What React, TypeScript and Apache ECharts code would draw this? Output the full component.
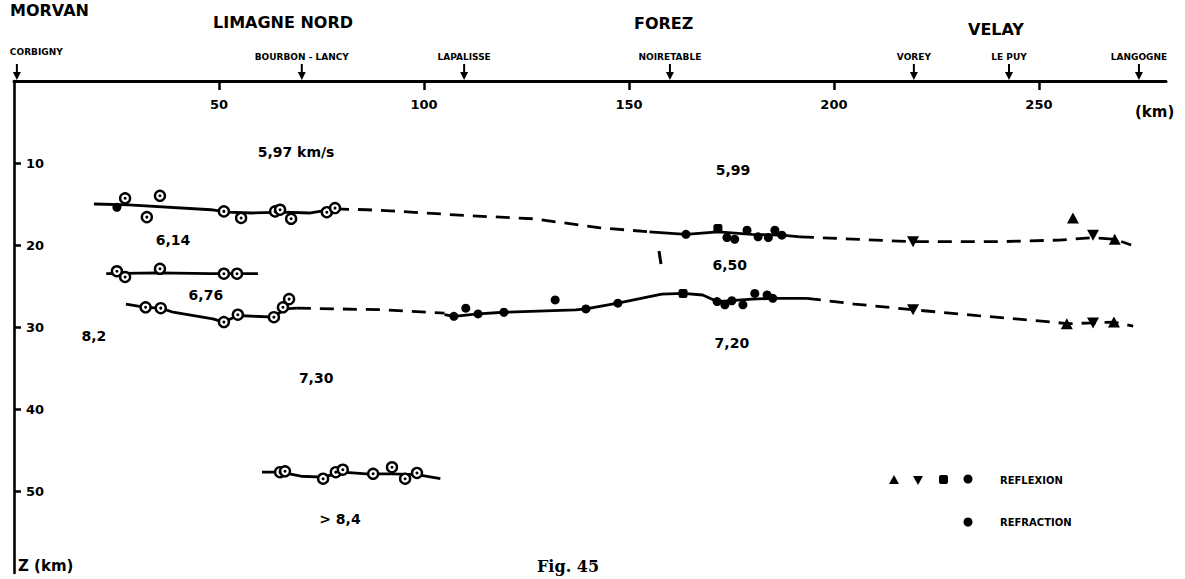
import React, { useEffect, useRef } from "react";
import * as echarts from "echarts";

// ---- axes ----
const xTicks = [50, 100, 150, 200, 250];
const zTicks = [10, 20, 30, 40, 50];

// ---- headings and stations ----
const regionNames = ["MORVAN", "LIMAGNE NORD", "FOREZ", "VELAY"];
const stationNames = ["CORBIGNY", "BOURBON - LANCY", "LAPALISSE", "NOIRETABLE", "VOREY", "LE PUY", "LANGOGNE"];
const stationKm = [0.7, 70.2, 109.8, 160.0, 219.5, 242.7, 274.4];

// ---- velocity annotations [km, depth] ----
const velocityText = ["5,97 km/s", "5,99", "6,14", "6,50", "6,76", "8,2", "7,20", "7,30", "> 8,4"];
const velocityPos = [
  [68.8, 8.7], [175.4, 10.9], [38.8, 19.4], [174.6, 22.4], [46.8, 26.1],
  [19.5, 31.1], [175.1, 32.0], [73.7, 36.2], [79.5, 53.4],
];

// ---- reflector traces [km, depth] ----
const upperSolidA = [[19.5, 15.0], [28, 15.1], [48, 15.7], [52, 16.0], [58, 16.1], [66, 16.0], [72, 16.1], [78.3, 15.6]];
const upperDashedA = [[78.3, 15.6], [86, 15.7], [94, 15.9], [110, 16.4], [126.6, 16.8], [143, 17.9], [155, 18.4]];
const upperSolidB = [[155, 18.4], [163.9, 18.7], [171.7, 18.4], [180, 18.7], [187.3, 18.8], [191.7, 19.0]];
const upperDashedB = [[191.7, 19.0], [219.3, 19.6], [240, 19.6], [255, 19.4], [263, 19.1], [268.5, 19.3], [272.5, 20.0]];
const middleSolid = [[22.5, 23.5], [35, 23.4], [48, 23.5], [59.5, 23.5]];
const lowerSolidA = [[27.3, 27.2], [32.1, 27.6], [35.8, 27.7], [38.8, 28.2], [48.5, 29.0], [51.2, 29.4], [54.6, 28.6], [63.4, 28.8], [66, 27.8], [69, 27.7]];
const lowerDashedA = [[69, 27.7], [90, 27.9], [105, 28.3]];
const lowerSolidB = [[105, 28.5], [107.3, 28.7], [113.2, 28.4], [119.5, 28.2], [137, 27.9], [139.5, 27.8], [147.3, 27.1], [158, 26.0], [163.2, 25.9], [168, 26.1], [171.5, 26.9], [180, 26.6], [185.1, 26.5], [193.4, 26.5]];
const lowerDashedB = [[193.4, 26.5], [205, 27.2], [219.3, 27.9], [235, 28.6], [253.4, 29.4], [256.8, 29.6], [263.2, 29.5], [268.3, 29.4], [273, 29.9]];
const deepSolid = [[60.5, 47.7], [64.9, 47.7], [70, 48.2], [75.4, 48.3], [80, 47.7], [86, 47.9], [92, 47.9], [98.3, 48.0], [104, 48.5]];

// ---- observations [km, depth] ----
const refractionPts = [
  [27.1, 14.3], [35.6, 14.0], [32.4, 16.6], [51.2, 15.9], [55.4, 16.7], [63.7, 15.9], [64.9, 15.7], [67.6, 16.8], [76.3, 16.0], [78.3, 15.5],
  [25.1, 23.2], [27.1, 23.9], [35.6, 22.9], [51.2, 23.5], [54.4, 23.5],
  [32.1, 27.6], [35.8, 27.7], [51.2, 29.4], [54.6, 28.5], [63.4, 28.8], [65.6, 27.6], [67.1, 26.6],
  [64.9, 47.7], [66.1, 47.6], [75.4, 48.5], [78.5, 47.7], [80.2, 47.4], [87.6, 47.9], [92.2, 47.1], [95.4, 48.5], [98.3, 47.8],
];
const reflectionDots = [
  [25.1, 15.4], [163.9, 18.7], [173.9, 19.1], [175.8, 19.3], [178.8, 18.2], [181.5, 19.0], [184.0, 19.1], [185.6, 18.2], [187.3, 18.8],
  [107.3, 28.7], [110.2, 27.7], [113.2, 28.4], [119.5, 28.2], [132, 26.7], [139.5, 27.8], [147.3, 27.1],
  [171.5, 26.9], [173.4, 27.3], [175.1, 26.8], [177.8, 27.3], [180.7, 25.9], [183.7, 26.1], [185.1, 26.5],
];
const reflectionSquares = [[171.7, 18.0], [163.2, 25.9]];
const reflectionUp = [[258.3, 16.7], [268.5, 19.3], [256.8, 29.6], [268.3, 29.4]];
const reflectionDown = [[219.3, 19.6], [263.2, 18.8], [219.3, 27.9], [263.2, 29.5]];

const legendNames = ["REFLEXION", "REFRACTION"];

const FONT = "DejaVu Sans";

export default function App() {
  const ref = useRef<HTMLDivElement>(null);

  useEffect(() => {
    const chart = echarts.init(ref.current!, null, { renderer: "svg" });

    const trace = (data: number[][], dashed: boolean) => ({
      type: "line",
      data,
      symbol: "none",
      silent: true,
      z: 2,
      lineStyle: { color: "#000", width: 2.8, type: dashed ? [14, 9] : "solid", opacity: 1 },
    });

    const marks = (data: number[][], symbol: string, size: any, style: any, z = 4, rotate = 0) => ({
      type: "scatter",
      data,
      symbol,
      symbolSize: size,
      symbolRotate: rotate,
      z,
      silent: true,
      itemStyle: { opacity: 1, ...style },
    });

    const option: any = {
      animation: false,
      backgroundColor: "#fff",
      grid: { left: 14, top: 81, right: 19, bottom: 6, containLabel: false },
      xAxis: {
        type: "value",
        position: "top",
        min: 0,
        max: 281,
        interval: 50,
        axisLine: { show: true, onZero: false, lineStyle: { color: "#000", width: 3 } },
        axisTick: { show: true, inside: true, length: 9, lineStyle: { color: "#000", width: 2.5 }, customValues: xTicks },
        axisLabel: {
          show: true, inside: true, margin: 17, color: "#000", fontFamily: FONT, fontWeight: "bold", fontSize: 13,
          customValues: xTicks,
        },
        splitLine: { show: false },
      },
      yAxis: {
        type: "value",
        inverse: true,
        min: 0,
        max: 60,
        interval: 10,
        axisLine: { show: true, onZero: false, lineStyle: { color: "#000", width: 2.6 } },
        axisTick: { show: true, inside: true, length: 7, lineStyle: { color: "#000", width: 2.5 }, customValues: zTicks },
        axisLabel: {
          show: true, inside: true, margin: 12, color: "#000", fontFamily: FONT, fontWeight: "bold", fontSize: 13,
          customValues: zTicks,
        },
        splitLine: { show: false },
      },
      series: [
        trace(upperSolidA, false),
        trace(upperDashedA, true),
        trace(upperSolidB, false),
        trace(upperDashedB, true),
        trace(middleSolid, false),
        trace(lowerSolidA, false),
        trace(lowerDashedA, true),
        trace(lowerSolidB, false),
        trace(lowerDashedB, true),
        trace(deepSolid, false),
        marks(refractionPts, "circle", 10, { color: "#fff", borderColor: "#000", borderWidth: 2.4 }),
        marks(refractionPts, "circle", 3, { color: "#000" }, 5),
        marks(reflectionDots, "circle", 9, { color: "#000" }),
        marks(reflectionSquares, "roundRect", 9, { color: "#000" }),
        marks(reflectionUp, "triangle", [12, 11], { color: "#000" }),
        marks(reflectionDown, "triangle", [12, 11], { color: "#000" }, 4, 180),
        {
          type: "scatter",
          data: velocityPos.map((p, i) => ({ value: p, name: velocityText[i] })),
          symbolSize: 1,
          silent: true,
          itemStyle: { color: "rgba(0,0,0,0)", opacity: 1 },
          label: {
            show: true, position: "inside", formatter: "{b}", color: "#000", opacity: 1,
            fontFamily: FONT, fontWeight: "bold", fontSize: 14,
          },
        },
      ],
    };
    chart.setOption(option);

    const px = (km: number) => chart.convertToPixel({ xAxisIndex: 0 }, km) as number;

    const g: any[] = [];
    const headingStyle = { fill: "#000", font: `bold 16px "${FONT}"` };
    const headingPos = [[10, 10], [213, 22], [634, 23], [968, 29]];
    regionNames.forEach((n, i) => {
      g.push({ type: "text", x: headingPos[i][0], y: headingPos[i][1], style: { ...headingStyle, text: n, textVerticalAlign: "middle" } });
    });

    stationNames.forEach((n, i) => {
      const x = px(stationKm[i]);
      g.push({
        type: "text", x: i === 0 ? x - 7 : x, y: i === 0 ? 52 : 57,
        style: { text: n, fill: "#000", font: `bold 9px "${FONT}"`, textAlign: i === 0 ? "left" : "center", textVerticalAlign: "middle" },
      });
      g.push({ type: "line", shape: { x1: x, y1: 64, x2: x, y2: 74 }, style: { stroke: "#000", lineWidth: 2 } });
      g.push({ type: "polygon", shape: { points: [[x - 4, 72], [x + 4, 72], [x, 80]] }, style: { fill: "#000" } });
    });

    g.push({ type: "text", x: 1135, y: 112, style: { text: "(km)", fill: "#000", font: `bold 15px "${FONT}"`, textVerticalAlign: "middle" } });
    g.push({ type: "text", x: 18, y: 566, style: { text: "Z (km)", fill: "#000", font: `bold 15px "${FONT}"`, textVerticalAlign: "middle" } });
    g.push({ type: "text", x: 537, y: 566, style: { text: "Fig. 45", fill: "#000", font: `bold 16px "DejaVu Serif"`, textVerticalAlign: "middle" } });
    g.push({ type: "line", shape: { x1: 659, y1: 251, x2: 661, y2: 264 }, style: { stroke: "#000", lineWidth: 3 } });

    // legend
    const ly1 = 480, ly2 = 522;
    g.push({ type: "polygon", shape: { points: [[889, ly1 + 4], [899, ly1 + 4], [894, ly1 - 5]] }, style: { fill: "#000" } });
    g.push({ type: "polygon", shape: { points: [[913, ly1 - 4], [923, ly1 - 4], [918, ly1 + 5]] }, style: { fill: "#000" } });
    g.push({ type: "rect", shape: { x: 939, y: ly1 - 5, width: 9, height: 9, r: 2 }, style: { fill: "#000" } });
    g.push({ type: "circle", shape: { cx: 968, cy: ly1 - 1, r: 4.5 }, style: { fill: "#000" } });
    g.push({ type: "circle", shape: { cx: 968, cy: ly2, r: 4.5 }, style: { fill: "#000" } });
    g.push({ type: "text", x: 1000, y: ly1, style: { text: legendNames[0], fill: "#000", font: `bold 10px "${FONT}"`, textVerticalAlign: "middle" } });
    g.push({ type: "text", x: 1000, y: ly2, style: { text: legendNames[1], fill: "#000", font: `bold 10px "${FONT}"`, textVerticalAlign: "middle" } });

    chart.setOption({ graphic: g });

    return () => chart.dispose();
  }, []);

  return (
    <div
      ref={ref}
      style={{ position: "fixed", left: 0, top: 0, width: 1185, height: 579, background: "#fff" }}
    />
  );
}
